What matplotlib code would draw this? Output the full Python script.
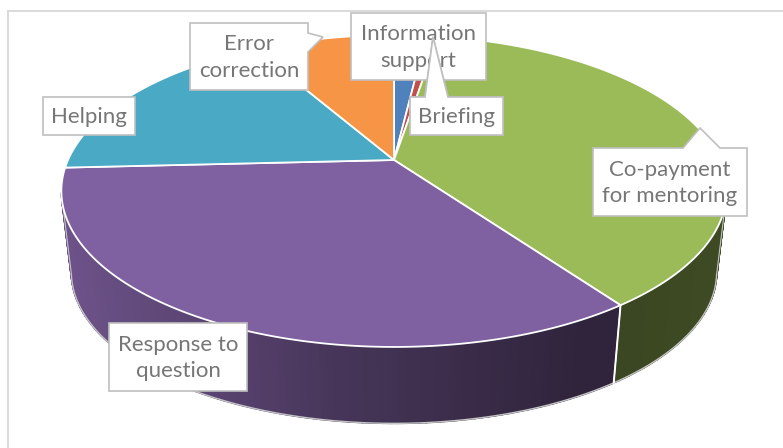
"""3-D style pie chart of mentoring activity shares, with callout labels."""

import matplotlib

matplotlib.use("Agg")  # headless backend
import matplotlib.pyplot as plt
import numpy as np
from matplotlib.collections import PolyCollection
from matplotlib.patches import Polygon

# shares in percent, clockwise from 12 o'clock
categories = ["Information support", "Briefing", "Co-payment for mentoring",
              "Response to question", "Helping", "Error correction"]
shares = [1.9, 0.7, 37.5, 34.1, 17.5, 8.3]
colors = ["#4f81bd", "#c0504d", "#9bbb59", "#7f60a0", "#4aaac5", "#f59545"]

# text and callout geometry in pixels
label_lines = ["Information\nsupport", "Briefing", "Co-payment\nfor mentoring",
               "Response to\nquestion", "Helping", "Error\ncorrection"]
boxes = [(351, 13, 486, 80), (410, 97, 503, 135), (593, 148, 747, 216),
         (109, 323, 247, 391), (43, 97, 135, 135), (190, 23, 308, 90)]
pointers = [None,
            [(425, 97), (433, 37), (448, 97)],
            [(683, 148), (700, 128), (720, 148)],
            None,
            None,
            [(308, 33), (323, 37), (308, 52)]]

W, H = 783, 448
CX, CY = 394, 160
PERSP = 0.1987  # perspective of the disc
SCALE_Y = 149.8
SCALE_X = 326.0
DEPTH = 82
BASE_SHRINK = 0.97
TEXT_GREY = "#767676"
FONT_SIZE = 16


def project(angle, shrink=1.0, drop=0.0):
    """Clockwise angle from 12 o'clock (radians) -> pixel position on the rim."""
    x, y = np.sin(angle), np.cos(angle)
    w = 1 + PERSP * y
    return CX + shrink * SCALE_X * x / w, CY + drop - shrink * SCALE_Y * y / w


def side_shade(px):
    return np.interp(px - CX, [-333, -200, -50, 200, 333], [0.86, 0.72, 0.55, 0.37, 0.40])


fig = plt.figure(figsize=(W / 100, H / 100), dpi=100)
ax = fig.add_axes([0, 0, 1, 1])
ax.set_xlim(0, W)
ax.set_ylim(H, 0)
ax.axis("off")

# chart frame: only the top and left edges are inside the crop
ax.plot([8, 8], [H, 11], color="#d9d9d9", linewidth=1.4, zorder=1)
ax.plot([8, W], [11, 11], color="#d9d9d9", linewidth=1.4, zorder=1)

edges = np.cumsum([0] + shares) / sum(shares) * 2 * np.pi

# outer wall, front half only (below the silhouette points of the rim)
for i, color in enumerate(colors):
    t = np.linspace(edges[i], edges[i + 1], 120)
    t = t[np.cos(t) < -PERSP]
    if len(t) < 2:
        continue
    tx, ty = project(t)
    bx, by = project(t, BASE_SHRINK, DEPTH)
    quads = [[(tx[j], ty[j]), (tx[j + 1], ty[j + 1]), (bx[j + 1], by[j + 1]), (bx[j], by[j])]
             for j in range(len(t) - 1)]
    rgb = np.array(matplotlib.colors.to_rgb(color))
    shade = [np.clip(rgb * side_shade(q[0][0]), 0, 1) for q in quads]
    ax.add_collection(PolyCollection(quads, facecolors=shade, edgecolors=shade, linewidths=1.2, zorder=2))
    ax.plot(bx, by, color="#c4c4c4", linewidth=1.0, zorder=2.5)
    ax.plot([tx[0], bx[0]], [ty[0], by[0]], color="#c4c4c4", linewidth=0.8, zorder=2.4)
    ax.plot([tx[-1], bx[-1]], [ty[-1], by[-1]], color="#c4c4c4", linewidth=0.8, zorder=2.4)

# white seam between the two visible walls
seam = edges[3]
sx0, sy0 = project(seam)
sx1, sy1 = project(seam, BASE_SHRINK, DEPTH)
ax.plot([sx0, sx1], [sy0, sy1], color="white", linewidth=1.4, zorder=2.6)

# top face
for i, color in enumerate(colors):
    t = np.linspace(edges[i], edges[i + 1], 200)
    tx, ty = project(t)
    ax.fill(np.r_[CX, tx], np.r_[CY, ty], facecolor=color, edgecolor="white", linewidth=1.3,
            joinstyle="round", zorder=3)

# callouts
for lines, box, ptr in zip(label_lines, boxes, pointers):
    x0, y0, x1, y1 = box
    if ptr is None:
        outline = [(x0, y0), (x1, y0), (x1, y1), (x0, y1)]
    elif ptr[0][1] == y0 and ptr[2][1] == y0:  # pointer on the top edge
        outline = [(x0, y0)] + ptr + [(x1, y0), (x1, y1), (x0, y1)]
    else:  # pointer on the right edge
        outline = [(x0, y0), (x1, y0)] + ptr + [(x1, y1), (x0, y1)]
    ax.add_patch(Polygon(outline, closed=True, facecolor="white", edgecolor="#bfbfbf",
                         linewidth=1.2, zorder=4))
    ax.text((x0 + x1) / 2, (y0 + y1) / 2 + 1, lines, ha="center", va="center", ma="center",
            family="Lato", fontsize=FONT_SIZE, color=TEXT_GREY, linespacing=1.4, zorder=5)

# the Briefing pointer runs over the Information support box, so redraw it on top
outline = [(410, 97)] + pointers[1] + [(503, 97), (503, 135), (410, 135)]
ax.add_patch(Polygon(outline, closed=True, facecolor="white", edgecolor="#bfbfbf",
                     linewidth=1.2, zorder=6))
ax.text(456.5, 117, label_lines[1], ha="center", va="center", family="Lato",
        fontsize=FONT_SIZE, color=TEXT_GREY, zorder=7)

fig.savefig("out.png", dpi=100)
plt.close(fig)
